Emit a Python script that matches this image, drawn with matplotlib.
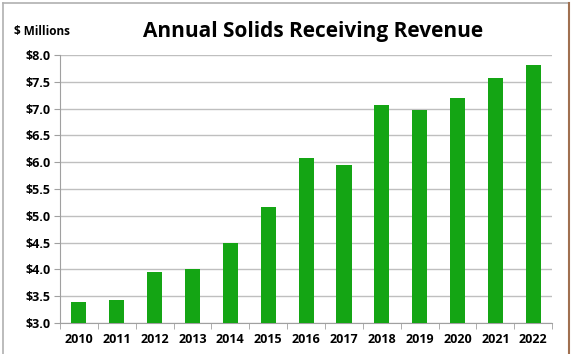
import matplotlib
matplotlib.use("Agg")
import matplotlib.pyplot as plt
from matplotlib.lines import Line2D
import numpy as np

# Annual solids receiving revenue, $ millions
years = ["2010", "2011", "2012", "2013", "2014", "2015", "2016",
         "2017", "2018", "2019", "2020", "2021", "2022"]
revenue = [3.39, 3.42, 3.96, 4.00, 4.50, 5.17, 6.08,
           5.95, 7.06, 6.98, 7.19, 7.57, 7.81]
yticks = [3.0, 3.5, 4.0, 4.5, 5.0, 5.5, 6.0, 6.5, 7.0, 7.5, 8.0]

plt.rcParams['font.family'] = ['Open Sans', 'DejaVu Sans']

fig = plt.figure(figsize=(5.74, 3.54), dpi=100)
ax = fig.add_axes([0.1045, 0.0876, 0.8575, 0.757])

x = np.arange(len(years))
ax.bar(x, revenue, width=0.4, color="#14a514", zorder=3)

ax.set_xlim(-0.5, len(years) - 0.5)
ax.set_ylim(3.0, 8.0)
ax.set_yticks(yticks)
ax.set_yticklabels([f"${v:.1f}" for v in yticks], fontsize=9, fontweight="bold")
ax.set_xticks(x)
ax.set_xticklabels(years, fontsize=9, fontweight="bold")
ax.tick_params(axis="x", length=0, pad=7)
ax.tick_params(axis="y", length=4, color="#a0a0a0", pad=3)

# small separator ticks between categories
ax.set_xticks(np.arange(-0.5, len(years)), minor=True)
ax.tick_params(axis="x", which="minor", length=4, color="#a0a0a0", direction="out")

ax.grid(axis="y", color="#bfbfbf", linewidth=1.0, zorder=0)
for s in ["top", "right"]:
    ax.spines[s].set_visible(False)
ax.spines["left"].set_color("#a0a0a0")
ax.spines["bottom"].set_color("#a0a0a0")

fig.text(0.545, 0.912, "Annual Solids Receiving Revenue", ha="center", va="center",
         fontsize=15, fontweight="bold")
fig.text(0.024, 0.912, "$ Millions", ha="left", va="center",
         fontsize=8.5, fontweight="bold")

# frame around the chart
fig.add_artist(Line2D([0.006, 0.006], [0.0, 0.992], color="#b0b0b0", lw=1.2))
fig.add_artist(Line2D([0.006, 0.99], [0.992, 0.992], color="#b0b0b0", lw=1.2))
fig.add_artist(Line2D([0.991, 0.991], [0.0, 0.992], color="#a07050", lw=1.5))

fig.savefig("out.png", dpi=100)
